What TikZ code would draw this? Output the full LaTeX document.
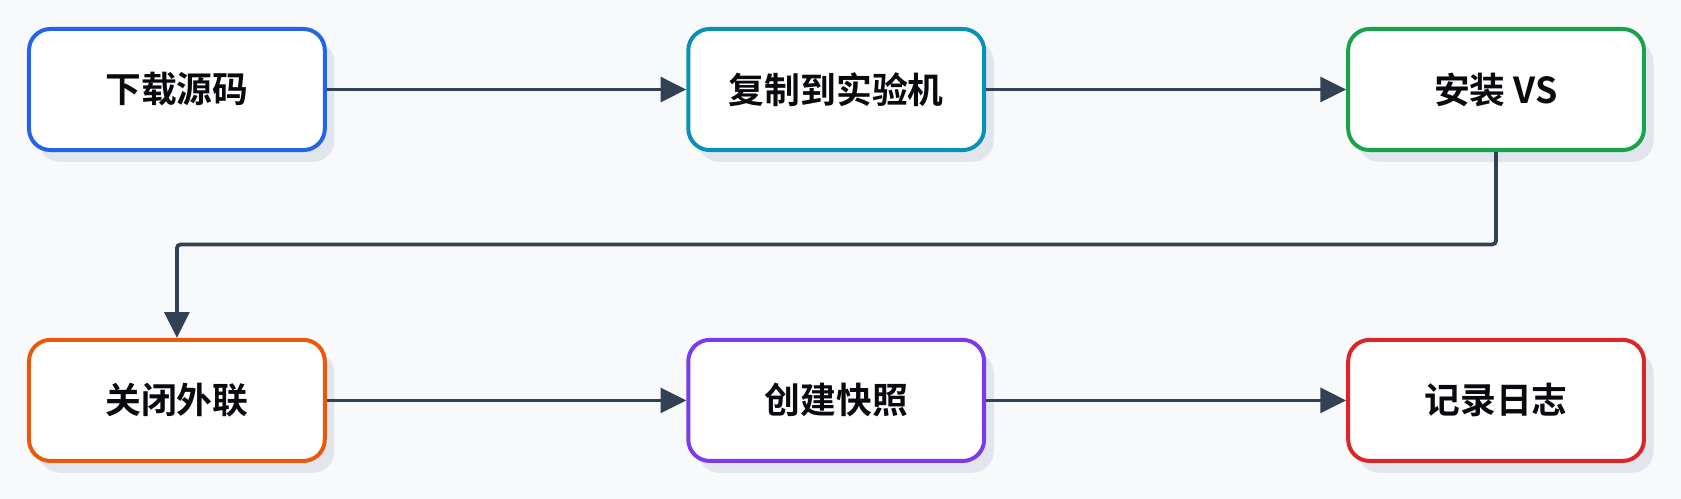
\documentclass[tikz,border=0pt]{standalone}
\usepackage{fontspec}
\newfontfamily\cjk{Noto Sans CJK SC}[BoldFont={Noto Sans CJK SC Bold}]
\usetikzlibrary{arrows.meta}
\definecolor{bg}{HTML}{F8F9FB}
\definecolor{sh}{HTML}{E1E6EE}
\definecolor{ln}{HTML}{334155}
\definecolor{cA}{HTML}{2563EB}
\definecolor{cB}{HTML}{0891B2}
\definecolor{cC}{HTML}{16A34A}
\definecolor{cD}{HTML}{EA580C}
\definecolor{cE}{HTML}{7C3AED}
\definecolor{cF}{HTML}{DC2626}
\begin{document}
\begin{tikzpicture}[x=0.02cm,y=-0.02cm,
 box/.style={draw=#1,line width=2.1pt,fill=white,rounded corners=0.4cm,minimum width=5.52cm,minimum height=2.26cm,font=\cjk\bfseries\fontsize{19}{22}\selectfont,text=black!85!ln,
   preaction={draw=none,fill=sh,transform canvas={xshift=0.18cm,yshift=-0.22cm}}},
 arr/.style={draw=ln,line width=2pt,-{Triangle[length=0.48cm,width=0.46cm]}}]
\fill[bg] (0,0) rectangle (1568,465);
\node[box=cA] (a) at (165,83.5) {下载源码};
\node[box=cB] (b) at (780,83.5) {复制到实验机};
\node[box=cC] (c) at (1395.5,83.5) {安装 VS};
\node[box=cD] (d) at (165,373.5) {关闭外联};
\node[box=cE] (e) at (780,373.5) {创建快照};
\node[box=cF] (f) at (1395.5,373.5) {记录日志};
\draw[arr] (a) -- (b);
\draw[arr] (b) -- (c);
\draw[arr,rounded corners=2pt] (c.south) |- (165,228) -- (d.north);
\draw[arr] (d) -- (e);
\draw[arr] (e) -- (f);
\end{tikzpicture}
\end{document}
